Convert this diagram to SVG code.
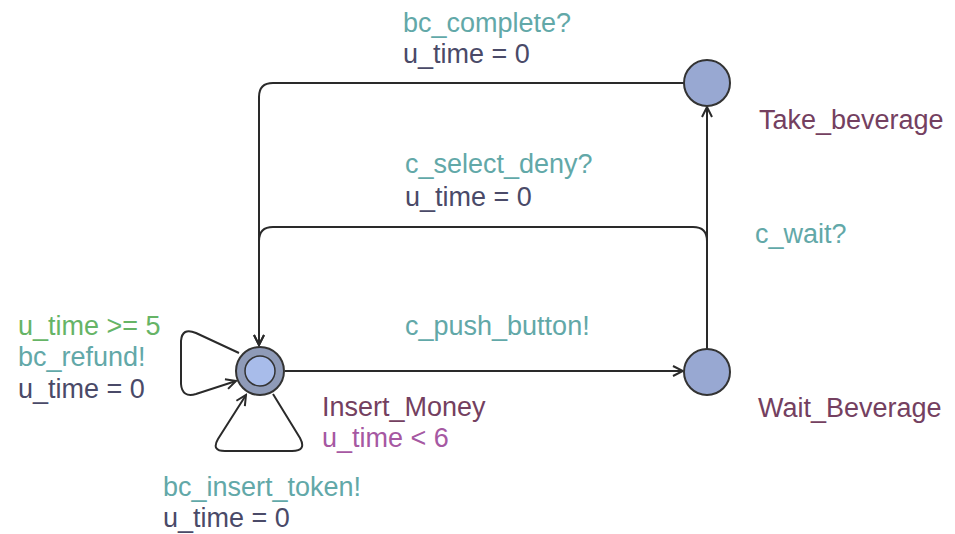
<svg xmlns="http://www.w3.org/2000/svg" width="955" height="534" viewBox="0 0 955 534">
<defs>
<style>
text{font-family:"Liberation Sans",Arial,sans-serif;font-size:27px}
.sync{fill:#62a8a8}
.assign{fill:#4a4a68}
.guard{fill:#66b466}
.name{fill:#744060}
.inv{fill:#a658a2}
.edge{fill:none;stroke:#2a2a2a;stroke-width:2}
.loc{fill:#98a8d2;stroke:#333;stroke-width:2}
</style>
<marker id="arr" viewBox="-12 -7 14 14" markerWidth="14" markerHeight="14" refX="0" refY="0" orient="auto" markerUnits="userSpaceOnUse">
<path d="M -10 -5 L 0 0 L -10 5" fill="none" stroke="#2a2a2a" stroke-width="2"/>
</marker>
</defs>
<rect width="955" height="534" fill="#ffffff"/>
<g id="connectors">
<path class="edge" d="M 684 83 H 273 Q 259 83 259 97 V 345" marker-end="url(#arr)"/>
<path class="edge" d="M 707 349 V 241 Q 707 227 693 227 H 273 Q 259 227 259 241 V 345" marker-end="url(#arr)"/>
<path class="edge" d="M 285 371 H 683" marker-end="url(#arr)"/>
<path class="edge" d="M 707 349 V 107" marker-end="url(#arr)"/>
<path class="edge" d="M 239 353 L 196 333 Q 182 327 181 341 L 181 384 Q 182 398 196 394 L 236 381" marker-end="url(#arr)"/>
<path class="edge" d="M 273 394 L 300 438 Q 307 451 292 451 L 225 451 Q 211 451 218 439 L 246 395" marker-end="url(#arr)"/>
</g>
<g id="Insert_Money">
<circle cx="260" cy="371" r="24" fill="#8f9bb8" stroke="#333" stroke-width="2"/>
<circle cx="260" cy="371" r="15" fill="#a8bcea" stroke="#333" stroke-width="1.5"/>
<text x="322" y="416" class="name">Insert_Money</text>
<text x="322" y="447" class="inv">u_time &lt; 6</text>
</g>
<g id="Take_beverage">
<circle class="loc" cx="707" cy="83" r="23"/>
<text x="759" y="129" class="name">Take_beverage</text>
</g>
<g id="Wait_Beverage">
<circle class="loc" cx="707" cy="372" r="23"/>
<text x="758" y="417" class="name">Wait_Beverage</text>
</g>
<g id="labels">
<text x="403" y="32" class="sync">bc_complete?</text>
<text x="403" y="63" class="assign">u_time = 0</text>
<text x="405" y="173" class="sync">c_select_deny?</text>
<text x="405" y="206" class="assign">u_time = 0</text>
<text x="405" y="335" class="sync">c_push_button!</text>
<text x="755" y="243" class="sync">c_wait?</text>
<text x="18" y="335" class="guard">u_time &gt;= 5</text>
<text x="18" y="366" class="sync">bc_refund!</text>
<text x="18" y="398" class="assign">u_time = 0</text>
<text x="163" y="496" class="sync">bc_insert_token!</text>
<text x="163" y="527" class="assign">u_time = 0</text>
</g>
</svg>
